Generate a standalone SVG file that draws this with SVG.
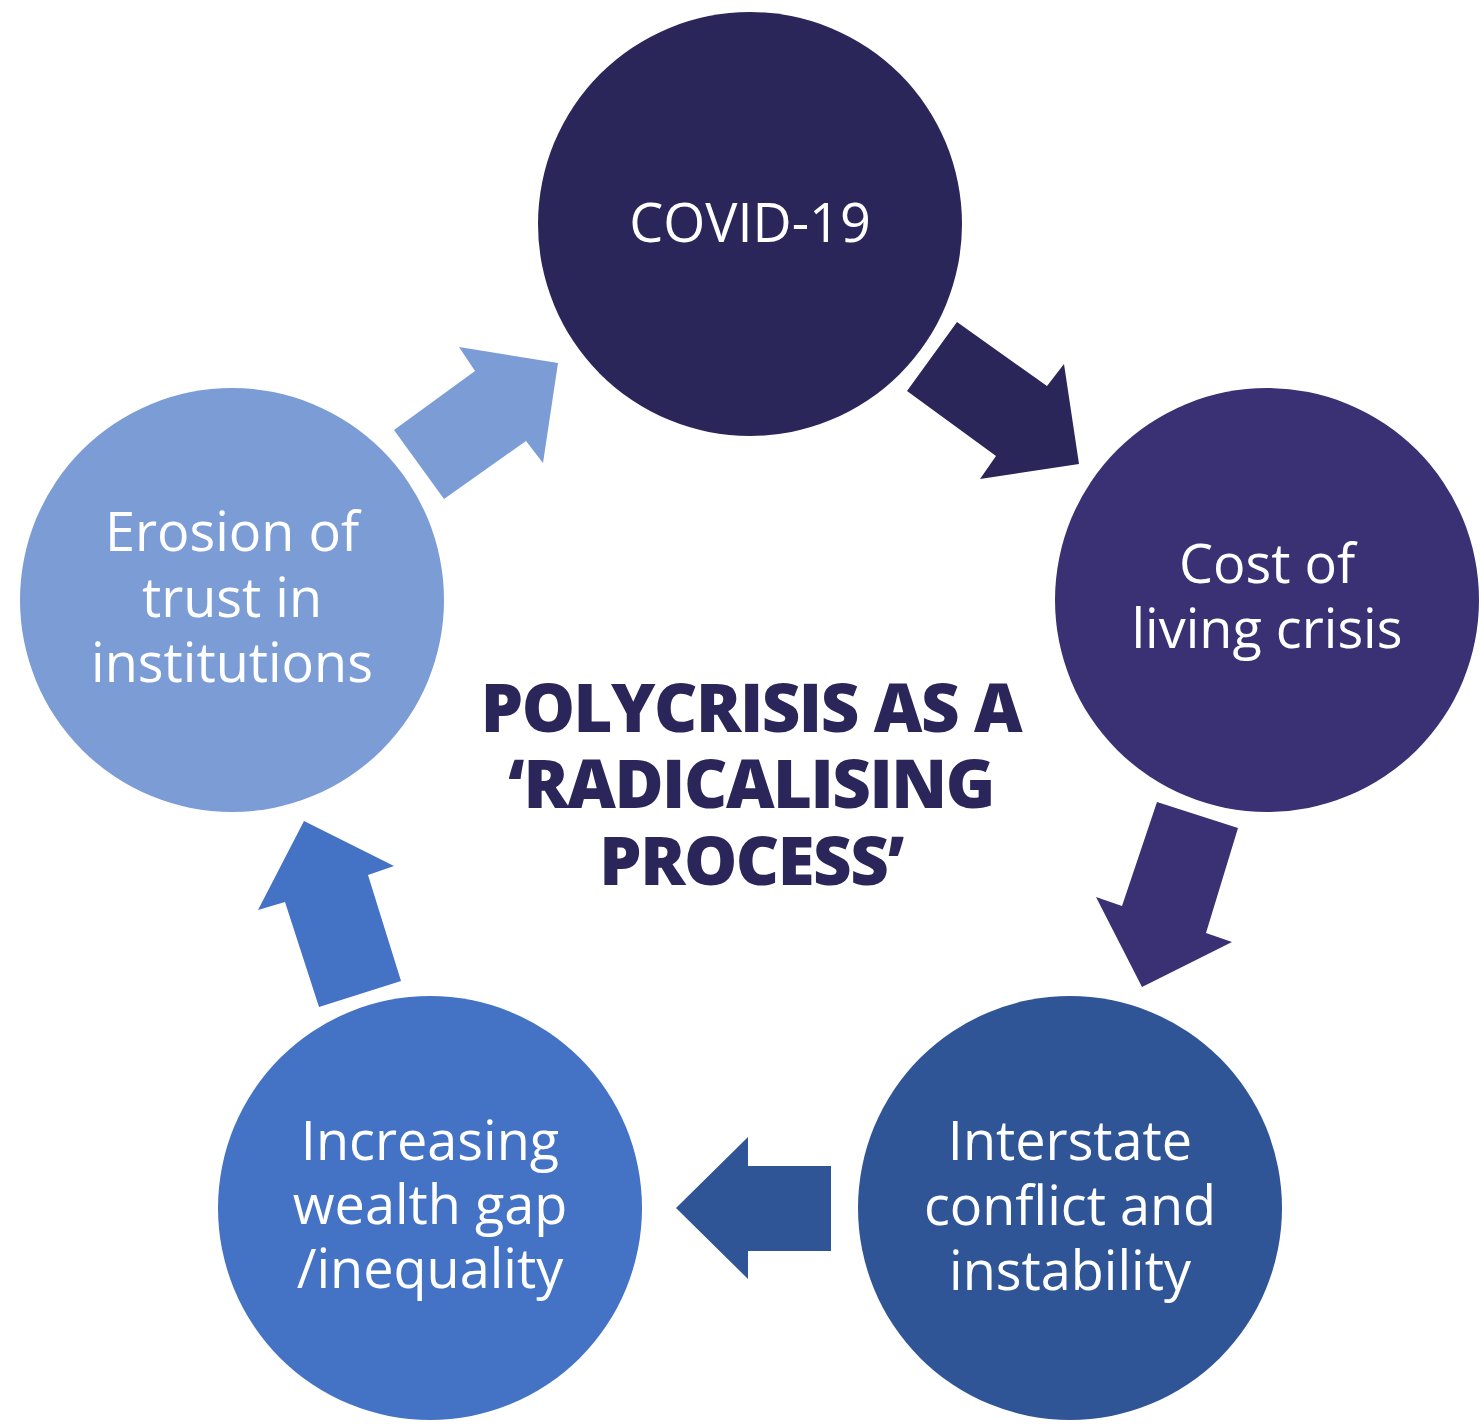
<svg xmlns="http://www.w3.org/2000/svg" width="1480" height="1428" viewBox="0 0 1480 1428">
<style>
.lbl{font-family:"Open Sans","Liberation Sans",sans-serif;font-size:54px;fill:#ffffff;text-anchor:middle}
.title{font-family:"Open Sans","Liberation Sans",sans-serif;font-size:67px;font-weight:800;fill:#2b2659;text-anchor:middle;letter-spacing:-1.5px}
</style>
<rect width="1480" height="1428" fill="#ffffff"/>
<g id="connectors">
<polygon id="a1" fill="#2b2659" points="957,322 1047,386 1064,364 1079,464 980,479 996,456 907,391"/>
<polygon id="a2" fill="#393174" points="1157,802 1238,828 1206,933 1232,942 1142,987 1096,897 1122,906"/>
<polygon id="a3" fill="#2f5597" points="831,1166 748,1166 748,1137 676,1208 748,1279 748,1251 831,1251"/>
<polygon id="a4" fill="#4472c4" points="304,821 394,866 368,875 401,981 319,1007 285,902 258,910"/>
<polygon id="a5" fill="#7b9cd5" points="459,347 558,363 543,463 526,441 444,499 394,430 475,371"/>
</g>
<g id="covid">
<circle cx="750" cy="224" r="212" fill="#2b2659"/>
<text class="lbl" x="750" y="242">COVID-19</text>
</g>
<g id="cost">
<circle cx="1267" cy="600" r="212" fill="#393174"/>
<text class="lbl" x="1267" y="583">Cost of</text>
<text class="lbl" x="1267" y="648">living crisis</text>
</g>
<g id="interstate">
<circle cx="1070" cy="1208" r="212" fill="#2f5597"/>
<text class="lbl" x="1070" y="1160">Interstate</text>
<text class="lbl" x="1070" y="1225">conflict and</text>
<text class="lbl" x="1070" y="1290">instability</text>
</g>
<g id="increasing">
<circle cx="430" cy="1208" r="212" fill="#4472c4"/>
<text class="lbl" x="430" y="1160">Increasing</text>
<text class="lbl" x="430" y="1224">wealth gap</text>
<text class="lbl" x="430" y="1288">/inequality</text>
</g>
<g id="erosion">
<circle cx="232" cy="600" r="212" fill="#7b9cd5"/>
<text class="lbl" x="232" y="551">Erosion of</text>
<text class="lbl" x="232" y="617">trust in</text>
<text class="lbl" x="232" y="682">institutions</text>
</g>
<g id="title">
<text class="title" x="751" y="732">POLYCRISIS AS A</text>
<text class="title" x="751" y="808">‘RADICALISING</text>
<text class="title" x="751" y="885">PROCESS’</text>
</g>
</svg>
